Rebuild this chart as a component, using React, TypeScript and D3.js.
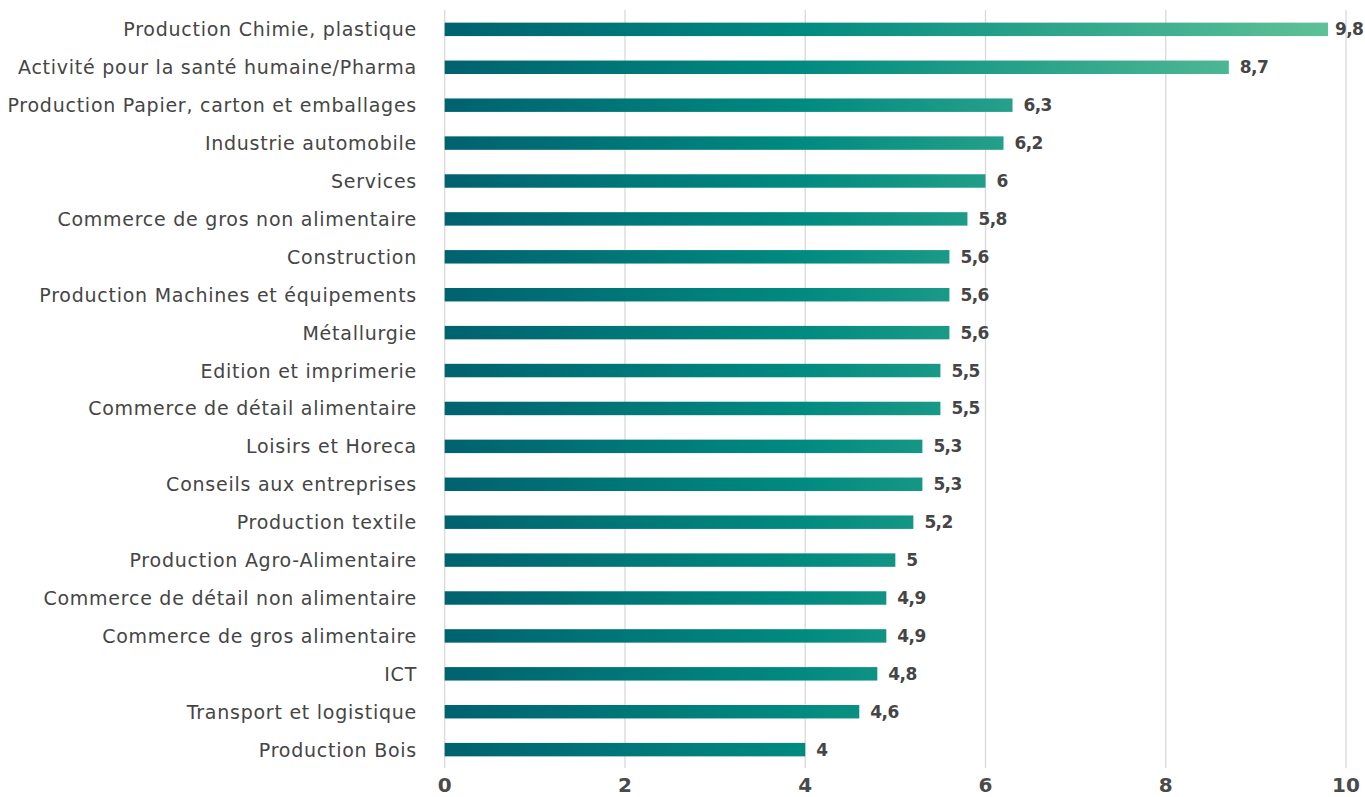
import React from "react";
import * as d3 from "d3";

const categories = [
  "Production Chimie, plastique",
  "Activité pour la santé humaine/Pharma",
  "Production Papier, carton et emballages",
  "Industrie automobile",
  "Services",
  "Commerce de gros non alimentaire",
  "Construction",
  "Production Machines et équipements",
  "Métallurgie",
  "Edition et imprimerie",
  "Commerce de détail alimentaire",
  "Loisirs et Horeca",
  "Conseils aux entreprises",
  "Production textile",
  "Production Agro-Alimentaire",
  "Commerce de détail non alimentaire",
  "Commerce de gros alimentaire",
  "ICT",
  "Transport et logistique",
  "Production Bois",
];
const values = [9.8, 8.7, 6.3, 6.2, 6, 5.8, 5.6, 5.6, 5.6, 5.5, 5.5, 5.3, 5.3, 5.2, 5, 4.9, 4.9, 4.8, 4.6, 4];
const ticks = [0, 2, 4, 6, 8, 10];

const W = 1365;
const H = 797;

export default function App() {
  const x = d3.scaleLinear().domain([0, 10]).range([444.7, 1346]);
  const y = d3
    .scaleBand<string>()
    .domain(categories)
    .range([10.5, 768.5])
    .paddingInner(0.645)
    .paddingOuter(0.32);
  const fmt = (v: number) => String(v).replace(".", ",");
  const font = "'DejaVu Sans', sans-serif";
  return (
    <svg
      width={W}
      height={H}
      style={{ position: "absolute", left: 0, top: 0, background: "#fff" }}
    >
      <defs>
        <linearGradient id="barGrad" gradientUnits="userSpaceOnUse" x1={x(0)} x2={x(9.8)} y1={0} y2={0}>
          <stop offset="0" stopColor="#00626f" />
          <stop offset="0.4" stopColor="#008a80" />
          <stop offset="1" stopColor="#5ec197" />
        </linearGradient>
      </defs>
      {ticks.map((t) => (
        <line key={t} x1={x(t)} x2={x(t)} y1={10} y2={768} stroke="#d9d9d9" strokeWidth={1.3} />
      ))}
      {categories.map((c, i) => {
        const yy = y(c)!;
        const bw = y.bandwidth();
        return (
          <g key={c}>
            <rect x={x(0)} y={yy} width={x(values[i]) - x(0)} height={bw} fill="url(#barGrad)" />
            <text
              x={417}
              y={yy + bw / 2}
              textAnchor="end"
              dominantBaseline="central"
              fontFamily={font}
              fontSize={19}
              letterSpacing={0.75}
              fill="#454545"
            >
              {c}
            </text>
            <text
              x={Math.min(x(values[i]) + 11, W - 30)}
              y={yy + bw / 2}
              dominantBaseline="central"
              fontFamily={font}
              fontSize={17}
              letterSpacing={-0.6}
              fontWeight="bold"
              fill="#454545"
            >
              {fmt(values[i])}
            </text>
          </g>
        );
      })}
      {ticks.map((t) => (
        <text
          key={t}
          x={x(t)}
          y={785}
          textAnchor="middle"
          dominantBaseline="central"
          fontFamily={font}
          fontSize={20}
          fontWeight="bold"
          fill="#4a4a4a"
        >
          {t}
        </text>
      ))}
    </svg>
  );
}
